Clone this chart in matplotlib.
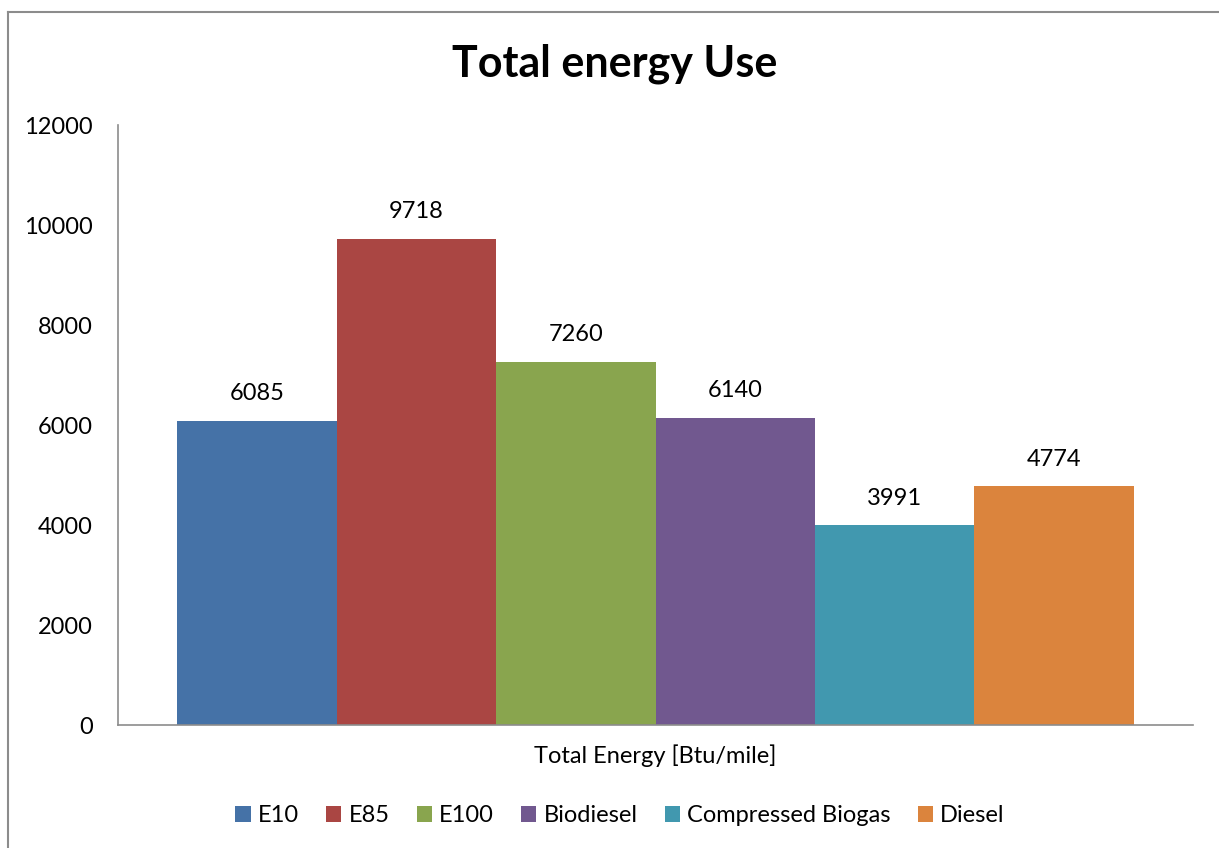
import matplotlib
matplotlib.use("Agg")
import matplotlib.pyplot as plt
from matplotlib.lines import Line2D
from matplotlib.patches import Patch

categories = ["E10", "E85", "E100", "Biodiesel", "Compressed Biogas", "Diesel"]
values = [6085, 9718, 7260, 6140, 3991, 4774]
colors = ["#4572A7", "#AA4643", "#89A54E", "#71588F", "#4198AF", "#DB843D"]
yticks = [0, 2000, 4000, 6000, 8000, 10000, 12000]
title = "Total energy Use"
xlabel = "Total Energy [Btu/mile]"

plt.rcParams['font.family'] = ['Lato', 'DejaVu Sans']

W, H = 1219, 848
fig = plt.figure(figsize=(W / 100, H / 100), dpi=100)
ax = fig.add_axes([118 / W, (H - 725) / H, (1193 - 118) / W, 600 / H])

x = list(range(len(values)))
bars = ax.bar(x, values, width=1.0, color=colors, edgecolor='none')
margin = 59 / 159.3
ax.set_xlim(-0.5 - margin, len(values) - 0.5 + margin)
ax.set_ylim(0, 12000)
ax.set_yticks(yticks)
ax.set_yticklabels([str(t) for t in yticks], fontsize=17)
ax.tick_params(axis='y', length=0, pad=18)
ax.set_xticks([])
for s in ['top', 'right']:
    ax.spines[s].set_visible(False)
for s in ['left', 'bottom']:
    ax.spines[s].set_color('#8c8c8c')
    ax.spines[s].set_linewidth(1.2)

for b, v in zip(bars, values):
    ax.annotate(str(v), (b.get_x() + b.get_width() / 2, v), xytext=(0, 12),
                textcoords='offset points', ha='center', va='bottom', fontsize=17)

ax.set_xlabel(xlabel, fontsize=17, labelpad=14)
fig.text(615 / W, 1 - 64 / H, title, fontsize=31, fontweight='bold', ha='center', va='center')

handles = [Patch(facecolor=c, edgecolor='none') for c in colors]
fig.legend(handles, categories, loc='center', bbox_to_anchor=(620 / W, 1 - 816 / H), ncol=6,
           frameon=False, fontsize=17, handlelength=0.65, handleheight=0.65,
           handletextpad=0.3, columnspacing=1.15)

fig.add_artist(Line2D([8 / W, 8 / W], [0, 1 - 12 / H], color='#8c8c8c', lw=1.5, transform=fig.transFigure))
fig.add_artist(Line2D([8 / W, 1], [1 - 12 / H, 1 - 12 / H], color='#8c8c8c', lw=1.5, transform=fig.transFigure))

fig.savefig("out.png", dpi=100, facecolor='white')
